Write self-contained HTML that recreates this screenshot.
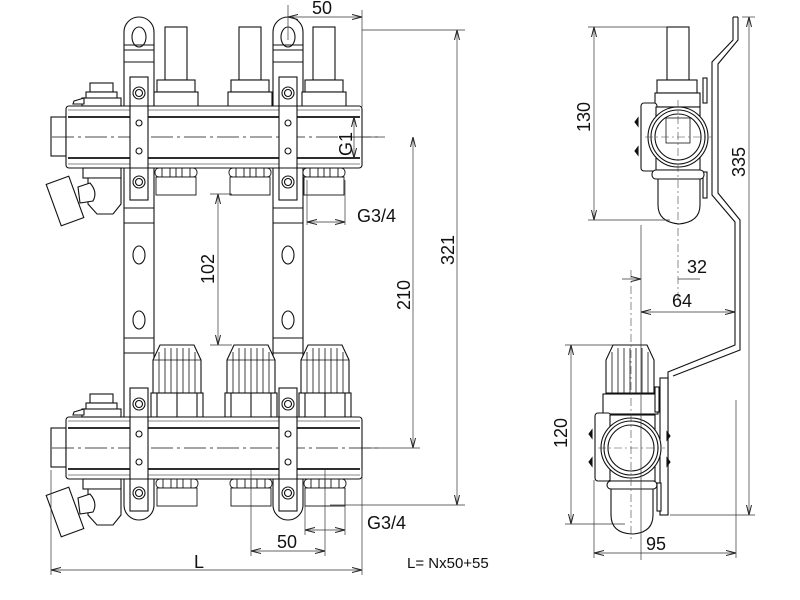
<!DOCTYPE html>
<html><head><meta charset="utf-8"><style>
html,body{margin:0;padding:0;background:#fff;width:800px;height:600px;overflow:hidden}
svg{display:block}
text{font-family:"Liberation Sans",sans-serif;fill:#111}
</style></head><body>
<svg width="800" height="600" viewBox="0 0 800 600" xmlns="http://www.w3.org/2000/svg">
<defs>
<marker id="ar" viewBox="0 0 10 6" refX="10" refY="3" markerWidth="10" markerHeight="6" orient="auto-start-reverse" markerUnits="userSpaceOnUse"><path d="M0,0.5 L10,3 L0,5.5" fill="none" stroke="#222" stroke-width="1"/></marker>
<g id="pipe" fill="#fff" stroke="#111" stroke-width="1.1">
  <rect x="51" y="-20" width="15" height="39"/>
  <rect x="66" y="-31" width="296" height="62" rx="3"/>
  <line x1="68" y1="-27" x2="360" y2="-27" stroke-width="0.6"/>
  <line x1="68" y1="-20" x2="360" y2="-20" stroke-width="1.8"/>
  <line x1="68" y1="21" x2="360" y2="21" stroke-width="1.8"/>
  <line x1="68" y1="27" x2="360" y2="27" stroke-width="0.6"/>
  <line x1="52" y1="0" x2="378" y2="0" stroke-width="0.7" stroke-dasharray="22,4,3,4"/>
  <rect x="90" y="-54" width="23" height="9"/>
  <rect x="86" y="-45" width="31" height="7"/>
  <rect x="82" y="-39" width="39" height="8"/>
  <path d="M74,-36 L84,-39 L84,-33 L73,-33 Z"/>
  <rect x="83" y="31" width="38" height="10"/>
  <path d="M88,41 L121,41 L121,67 L113,77 L97,77 L88,67 Z"/>
  <path d="M78,50 L90,46 Q98,55 93,64 L80,66 Z"/>
  <rect x="-12" y="-22" width="24" height="44" transform="translate(65 64) rotate(-20)"/>
</g>
<g id="nuts" fill="#fff" stroke="#111" stroke-width="0.9">
  <rect x="-21" y="0" width="42" height="9" rx="4"/>
  <line x1="-14" y1="0" x2="-14" y2="9"/><line x1="-6" y1="0" x2="-6" y2="9"/><line x1="0" y1="0" x2="0" y2="9"/><line x1="6" y1="0" x2="6" y2="9"/><line x1="14" y1="0" x2="14" y2="9"/>
  <rect x="-20" y="9" width="40" height="18"/>
</g>
<g id="topv" fill="#fff" stroke="#111" stroke-width="1.1">
  <rect x="-11" y="27" width="22" height="53"/>
  <rect x="-19" y="80" width="38" height="12"/>
  <rect x="-22" y="92" width="44" height="15"/>
</g>
<g id="knob" fill="#fff" stroke="#111" stroke-width="1.1">
  <path d="M-17,345 L17,345 L24,360 L24,393 L-24,393 L-24,360 Z"/>
  <line x1="-24" y1="360" x2="24" y2="360" stroke-width="0.7"/>
  <g stroke-width="0.8"><line x1="-18" y1="352" x2="-18" y2="393"/><line x1="-12" y1="348" x2="-12" y2="393"/><line x1="-6" y1="348" x2="-6" y2="393"/><line x1="0" y1="348" x2="0" y2="393"/><line x1="6" y1="348" x2="6" y2="393"/><line x1="12" y1="348" x2="12" y2="393"/><line x1="18" y1="352" x2="18" y2="393"/></g>
  <rect x="-26" y="393" width="52" height="24"/>
  <line x1="-20" y1="393" x2="-20" y2="417"/><line x1="0" y1="393" x2="0" y2="417"/><line x1="20" y1="393" x2="20" y2="417"/>
</g>
<g id="brk" fill="#fff" stroke="#111" stroke-width="1.1">
  <path d="M0,505 L0,32 A15,15 0 0 1 30,32 L30,505 A15,15 0 0 1 0,505 Z"/>
  <ellipse cx="15" cy="37" rx="7" ry="10"/>
  <line x1="0" y1="45" x2="30" y2="45"/><line x1="0" y1="50" x2="30" y2="50"/><line x1="0" y1="62" x2="30" y2="62"/>
  <line x1="0" y1="208" x2="30" y2="208"/><line x1="0" y1="223" x2="30" y2="223"/>
  <line x1="0" y1="338" x2="30" y2="338"/><line x1="0" y1="353" x2="30" y2="353"/>
  <ellipse cx="15" cy="255" rx="6" ry="9"/><ellipse cx="15" cy="320" rx="6" ry="9"/>
</g>
<g id="plate" fill="#fff" stroke="#111" stroke-width="1.1">
  <rect x="6" y="-60" width="18" height="123"/>
  <circle cx="15" cy="-44" r="6"/><circle cx="15" cy="-44" r="3.5"/>
  <circle cx="15" cy="-14" r="3"/><circle cx="15" cy="14" r="3"/>
  <circle cx="15" cy="45" r="6"/><circle cx="15" cy="45" r="3.5"/>
  <line x1="6" y1="-31" x2="24" y2="-31"/><line x1="6" y1="31" x2="24" y2="31"/>
</g>
</defs>

<use href="#brk" x="124"/>
<use href="#brk" x="273"/>
<use href="#topv" x="176"/><use href="#topv" x="250"/><use href="#topv" x="324"/>
<use href="#knob" x="177"/><use href="#knob" x="251"/><use href="#knob" x="325"/>
<use href="#pipe" y="137"/>
<use href="#pipe" y="448"/>
<use href="#nuts" x="176" y="168"/><use href="#nuts" x="250" y="168"/><use href="#nuts" x="324" y="168"/>
<use href="#nuts" x="177" y="479"/><use href="#nuts" x="251" y="479"/><use href="#nuts" x="325" y="479"/>
<use href="#plate" x="124" y="137"/><use href="#plate" x="273" y="137"/>
<use href="#plate" x="124" y="448"/><use href="#plate" x="273" y="448"/>

<g stroke="#333" stroke-width="0.7" fill="none">
  <line x1="288" y1="5" x2="288" y2="40"/><line x1="362" y1="10" x2="362" y2="107"/>
  <line x1="288" y1="17" x2="362" y2="17" marker-start="url(#ar)" marker-end="url(#ar)"/>
  <line x1="362" y1="137" x2="385" y2="137"/>
  <line x1="354" y1="117" x2="354" y2="158" marker-start="url(#ar)" marker-end="url(#ar)"/>
  <line x1="345" y1="180" x2="345" y2="225"/><line x1="307" y1="180" x2="307" y2="225"/>
  <line x1="307" y1="222" x2="345" y2="222" marker-start="url(#ar)" marker-end="url(#ar)"/>
  <line x1="218" y1="194" x2="218" y2="345" marker-start="url(#ar)" marker-end="url(#ar)"/>
  <line x1="210" y1="194" x2="232" y2="194"/><line x1="210" y1="345" x2="232" y2="345"/>
  <line x1="413" y1="137" x2="413" y2="448" marker-start="url(#ar)" marker-end="url(#ar)"/>
  <line x1="362" y1="448" x2="420" y2="448"/>
  <line x1="362" y1="30" x2="465" y2="30"/><line x1="330" y1="505" x2="465" y2="505"/>
  <line x1="457" y1="30" x2="457" y2="505" marker-start="url(#ar)" marker-end="url(#ar)"/>
  <line x1="345" y1="490" x2="345" y2="535"/><line x1="305" y1="490" x2="305" y2="535"/>
  <line x1="305" y1="530" x2="345" y2="530" marker-start="url(#ar)" marker-end="url(#ar)"/>
  <line x1="251" y1="470" x2="251" y2="556"/><line x1="325" y1="470" x2="325" y2="556"/>
  <line x1="251" y1="551" x2="325" y2="551" marker-start="url(#ar)" marker-end="url(#ar)"/>
  <line x1="51" y1="470" x2="51" y2="575"/><line x1="362" y1="470" x2="362" y2="575"/>
  <line x1="51" y1="570" x2="362" y2="570" marker-start="url(#ar)" marker-end="url(#ar)"/>
</g>
<g font-size="18">
<text x="312" y="14">50</text>
<text x="352" y="156" transform="rotate(-90 352 156)">G1</text>
<text x="357" y="222">G3/4</text>
<text x="214" y="284" transform="rotate(-90 214 284)">102</text>
<text x="410" y="310" transform="rotate(-90 410 310)">210</text>
<text x="454" y="265" transform="rotate(-90 454 265)">321</text>
<text x="367" y="529">G3/4</text>
<text x="277" y="548">50</text>
<text x="194" y="568">L</text>
<text x="407" y="568" font-size="15">L= Nx50+55</text>
</g>

<g fill="none" stroke="#111" stroke-width="1.1">
  <path d="M733,17 L733,33 L733,40 L712,62 L712,195 L735,222 L735,345 L668,372 L668,515"/>
  <path d="M738,17 L738,40 L718,64 L718,193 L740,220 L740,350 L673,376"/>
  <line x1="733" y1="17" x2="738" y2="17"/>
  <rect x="660" y="378" width="8" height="137" fill="#fff"/>
</g>
<g fill="#fff" stroke="#111" stroke-width="1.1">
  <rect x="667" y="27" width="22" height="53"/>
  <rect x="657" y="80" width="40" height="13"/>
  <rect x="655" y="93" width="45" height="14"/>
  <rect x="641" y="103" width="16" height="68" rx="3"/>
  <rect x="656" y="107" width="44" height="63"/>
  <rect x="703" y="78" width="4" height="25"/><rect x="703" y="172" width="4" height="26"/>
  <circle cx="678" cy="137" r="30"/><circle cx="678" cy="137" r="27"/><circle cx="678" cy="137" r="23"/>
  <rect x="666" y="118" width="24" height="25" stroke-width="0.8"/>
  <rect x="652" y="170" width="52" height="9" rx="4"/>
  <path d="M658,179 L700,179 L700,205 Q700,222 679,224 Q658,222 658,205 Z"/>
  <path d="M638,118 l-3,4 l3,4 Z M638,147 l-3,4 l3,4 Z" fill="#111"/>
  <path d="M613,345 L647,345 L654,360 L654,393 L606,393 L606,360 Z"/>
  <g stroke-width="0.8"><line x1="612" y1="352" x2="612" y2="393"/><line x1="618" y1="348" x2="618" y2="393"/><line x1="624" y1="348" x2="624" y2="393"/><line x1="630" y1="348" x2="630" y2="393"/><line x1="636" y1="348" x2="636" y2="393"/><line x1="642" y1="348" x2="642" y2="393"/><line x1="648" y1="352" x2="648" y2="393"/></g>
  <rect x="603" y="394" width="55" height="20"/>
  <rect x="655" y="387" width="4" height="25"/>
  <rect x="595" y="413" width="16" height="68" rx="3"/>
  <rect x="610" y="415" width="45" height="66"/>
  <circle cx="631" cy="448" r="30"/><circle cx="631" cy="448" r="27"/><circle cx="631" cy="448" r="23"/>
  <rect x="607" y="481" width="50" height="8" rx="4"/>
  <rect x="657" y="483" width="4" height="28"/>
  <path d="M611,489 L653,489 L653,515 Q653,533 632,534 Q611,533 611,515 Z"/>
  <path d="M592,430 l-3,4 l3,4 Z M592,458 l-3,4 l3,4 Z M667,432 l3,4 l-3,4 Z M667,458 l3,4 l-3,4 Z" fill="#111"/>
</g>
<g stroke="#444" stroke-width="0.6" fill="none" stroke-dasharray="8,3,2,3">
  <line x1="678" y1="100" x2="678" y2="300"/><line x1="645" y1="137" x2="712" y2="137"/>
  <line x1="631" y1="270" x2="631" y2="540"/><line x1="598" y1="448" x2="665" y2="448"/>
</g>
<g stroke="#333" stroke-width="0.7" fill="none">
  <line x1="588" y1="27" x2="667" y2="27"/><line x1="588" y1="220" x2="670" y2="220"/>
  <line x1="594" y1="27" x2="594" y2="220" marker-start="url(#ar)" marker-end="url(#ar)"/>
  <line x1="742" y1="17" x2="755" y2="17"/><line x1="670" y1="515" x2="755" y2="515"/>
  <line x1="749" y1="17" x2="749" y2="515" marker-start="url(#ar)" marker-end="url(#ar)"/>
  <line x1="641" y1="225" x2="641" y2="560"/>
  <line x1="622" y1="279" x2="641" y2="279" marker-end="url(#ar)"/>
  <line x1="678" y1="279" x2="700" y2="279"/>
  <line x1="641" y1="312" x2="735" y2="312" marker-start="url(#ar)" marker-end="url(#ar)"/>
  <line x1="565" y1="345" x2="613" y2="345"/><line x1="565" y1="524" x2="625" y2="524"/>
  <line x1="571" y1="345" x2="571" y2="524" marker-start="url(#ar)" marker-end="url(#ar)"/>
  <line x1="594" y1="480" x2="594" y2="558"/><line x1="736" y1="400" x2="736" y2="558"/>
  <line x1="594" y1="553" x2="736" y2="553" marker-start="url(#ar)" marker-end="url(#ar)"/>
</g>
<g font-size="18">
<text x="590" y="132" transform="rotate(-90 590 132)">130</text>
<text x="745" y="177" transform="rotate(-90 745 177)">335</text>
<text x="687" y="273">32</text>
<text x="672" y="307">64</text>
<text x="567" y="448" transform="rotate(-90 567 448)">120</text>
<text x="646" y="550">95</text>
</g>
</svg>
</body></html>
